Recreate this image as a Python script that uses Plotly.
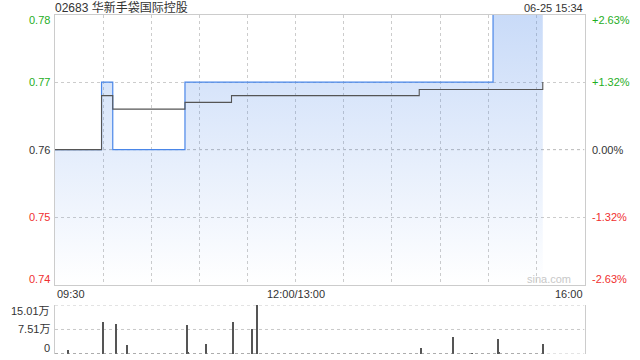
import plotly.graph_objects as go

# ---- data ----
title_text = "02683 华新手袋国际控股"
stamp_text = "06-25 15:34"
prev_close = 0.76

# trading minutes since 09:30 (12:00/13:00 = 150, 16:00 = 330)
price_t = [0, 29, 36, 81, 273, 304]
price_v = [0.76, 0.77, 0.76, 0.77, 0.78, 0.78]

avg_t = [0, 29, 36, 81, 110, 227, 302, 304]
avg_v = [0.76, 0.768, 0.766, 0.767, 0.768, 0.7689, 0.7689, 0.770]

vol_t = [8, 30, 38, 45, 82, 83, 94, 111, 123, 126, 228, 248, 260, 276, 277, 304]
vol_v = [1.3, 9.7, 9.2, 2.7, 8.9, 0.4, 3.0, 9.7, 7.65, 15.01, 1.75, 5.07, 0.3, 4.45, 0.4, 3.0]  # 万

price_ticks = [0.78, 0.77, 0.76, 0.75, 0.74]
price_labels = ["0.78", "0.77", "0.76", "0.75", "0.74"]
pct_labels = ["+2.63%", "+1.32%", "0.00%", "-1.32%", "-2.63%"]
tick_colors = ["#1fae1f", "#1fae1f", "#333333", "#f03030", "#f03030"]

vol_ticks = [15.01, 7.51, 0]
vol_labels = ["15.01万", "7.51万", "0"]

x_ticks = [0, 150, 330]
x_labels = ["09:30", "12:00/13:00", "16:00"]
x_grid = [30, 60, 90, 120, 150, 180, 210, 240, 270, 300]

W, H = 640, 360
L, R = 55, 584.5
T1, B1 = 14.5, 284.8
T2, B2 = 305, 354
FONT = "Liberation Sans, Arial, Noto Sans CJK SC, sans-serif"

fig = go.Figure()

fig.add_trace(go.Scatter(
    x=price_t, y=price_v, mode="lines", line=dict(color="#4a86e8", width=1.2, shape="hv"),
    fill="tozeroy",
    fillgradient=dict(type="vertical",
                      colorscale=[[0, "rgba(74,134,232,0.0)"], [1, "rgba(74,134,232,0.30)"]],
                      start=0.74, stop=0.78),
    xaxis="x", yaxis="y", hoverinfo="skip", showlegend=False))

fig.add_trace(go.Scatter(
    x=avg_t, y=avg_v, mode="lines", line=dict(color="#555555", width=1.1, shape="hv"),
    xaxis="x", yaxis="y", hoverinfo="skip", showlegend=False))

fig.add_trace(go.Scatter(
    x=[0, vol_t[-1]], y=[0, 0], mode="lines", line=dict(color="#777777", width=1, dash="dot"),
    xaxis="x2", yaxis="y2", hoverinfo="skip", showlegend=False))

fig.add_trace(go.Bar(
    x=vol_t, y=vol_v, width=0.7, marker=dict(color="#555555", line=dict(width=0)),
    xaxis="x2", yaxis="y2", hoverinfo="skip", showlegend=False))

xd = [L / W, R / W]
fig.update_layout(
    width=W, height=H, margin=dict(l=0, r=0, t=0, b=0),
    paper_bgcolor="white", plot_bgcolor="white",
    font=dict(family=FONT, size=11, color="#333333"),
    bargap=0,
    xaxis=dict(domain=xd, range=[0, 330], tickvals=x_grid, showticklabels=False, ticks="",
               showgrid=True, gridcolor="#cccccc", griddash="dot", gridwidth=1,
               showline=True, linecolor="#cccccc", linewidth=1, mirror=True, zeroline=False, fixedrange=True),
    yaxis=dict(domain=[1 - B1 / H, 1 - T1 / H], range=[0.74, 0.78], tickvals=[0.75, 0.77],
               showticklabels=False, ticks="", showgrid=True, gridcolor="#cccccc", griddash="dot",
               showline=True, linecolor="#cccccc", linewidth=1, mirror=True, zeroline=False, fixedrange=True),
    xaxis2=dict(domain=xd, range=[0, 330], anchor="y2", showticklabels=False, ticks="",
                showgrid=False, showline=False, zeroline=False, fixedrange=True),
    yaxis2=dict(domain=[1 - B2 / H, 1 - T2 / H], range=[0, 15.01], anchor="x2", showticklabels=False,
                ticks="", showgrid=False, showline=True, linecolor="#cccccc", linewidth=1, mirror=True,
                zeroline=False, fixedrange=True),
)

shapes = [
    dict(type="line", xref="x", yref="y", x0=0, x1=330, y0=prev_close, y1=prev_close,
         line=dict(color="#b8b8b8", width=1, dash="3px,3px"), layer="below"),
]
for v in vol_ticks:
    shapes.append(dict(type="line", xref="x2", yref="y2", x0=0, x1=330, y0=v, y1=v,
                       line=dict(color="#c8c8c8", width=1, dash="dot"), layer="below"))
fig.update_layout(shapes=shapes)

ann = []
n = len(price_ticks)
for i, (v, lab, pl, c) in enumerate(zip(price_ticks, price_labels, pct_labels, tick_colors)):
    ys = -6 if i == 0 else (6 if i == n - 1 else 0)
    ann.append(dict(x=(L - 3) / W, xref="paper", y=v, yref="y", yshift=ys, text=lab, showarrow=False,
                    xanchor="right", yanchor="middle", font=dict(color=c, size=11)))
    ann.append(dict(x=(R + 5) / W, xref="paper", y=v, yref="y", yshift=ys, text=pl, showarrow=False,
                    xanchor="left", yanchor="middle", font=dict(color=c, size=11)))
for i, (v, lab) in enumerate(zip(vol_ticks, vol_labels)):
    ys = -6 if i == 0 else (6 if i == len(vol_ticks) - 1 else 0)
    ann.append(dict(x=(L - 3) / W, xref="paper", y=v, yref="y2", yshift=ys, text=lab, showarrow=False,
                    xanchor="right", yanchor="middle", font=dict(color="#333333", size=11)))
anchors = ["left", "center", "right"]
for v, lab, a in zip(x_ticks, x_labels, anchors):
    ann.append(dict(x=v, xref="x", y=1 - 293.5 / H, yref="paper", text=lab, showarrow=False,
                    xanchor=a, yanchor="middle", font=dict(color="#333333", size=11)))
ann.append(dict(x=L / W, xref="paper", y=1 - 7.5 / H, yref="paper", text=title_text, showarrow=False,
                xanchor="left", yanchor="middle", xshift=-2, font=dict(color="#333333", size=12)))
ann.append(dict(x=R / W, xref="paper", y=1 - 7.5 / H, yref="paper", text=stamp_text, showarrow=False,
                xanchor="right", yanchor="middle", font=dict(color="#333333", size=11)))
ann.append(dict(x=573 / W, xref="paper", y=1 - 278.5 / H, yref="paper", text="sina.com", showarrow=False,
                xanchor="right", yanchor="middle", font=dict(color="#c8c8c8", size=11)))
fig.update_layout(annotations=ann)

fig.write_html("out.html")
